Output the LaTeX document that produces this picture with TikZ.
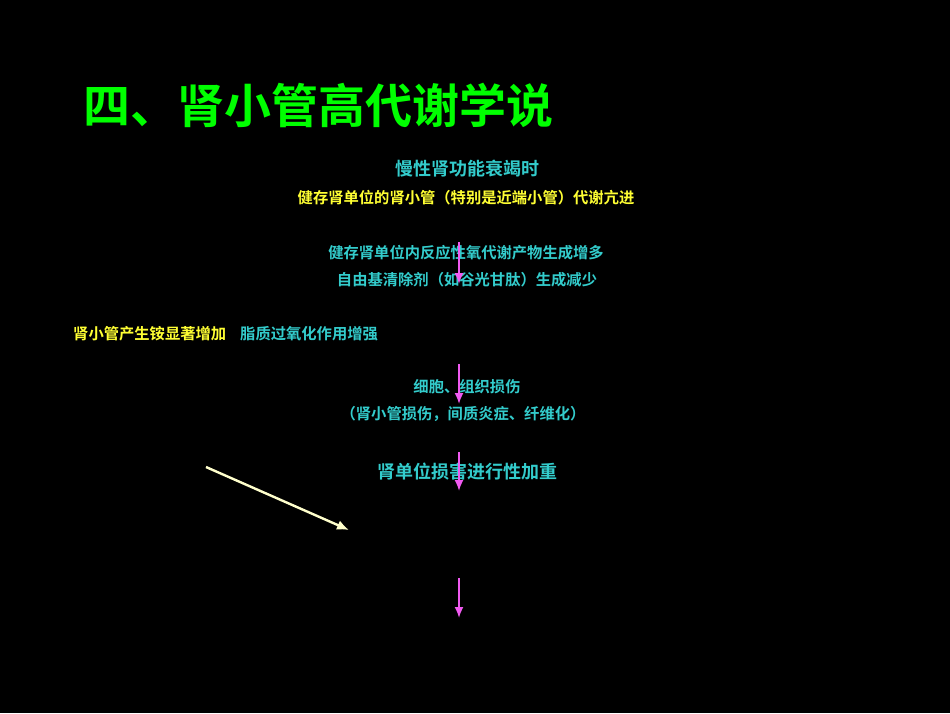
\documentclass[tikz,border=0pt]{standalone}
\usepackage{fontspec}
\usepackage{tikz}
\usetikzlibrary{arrows.meta}
\setmainfont{Noto Sans CJK SC}[BoldFont={Noto Sans CJK SC Bold}]
\definecolor{titlegreen}{RGB}{0,255,0}
\definecolor{tcyan}{RGB}{51,204,204}
\definecolor{tyellow}{RGB}{255,255,51}
\definecolor{amag}{RGB}{240,90,240}
\definecolor{acream}{RGB}{255,255,204}

\begin{document}
\begin{tikzpicture}[x=1pt, y=-1pt,
  cy/.style={text=tcyan, font=\bfseries\fontsize{15.3}{16}\selectfont, inner sep=0pt},
  ye/.style={text=tyellow, font=\bfseries\fontsize{15.3}{16}\selectfont, inner sep=0pt},
  big/.style={text=tcyan, font=\bfseries\fontsize{18}{20}\selectfont, inner sep=0pt},
  magarrow/.style={draw=amag, fill=amag, line width=1.8pt, -{Latex[length=11pt,width=9pt]}}]
\fill[black] (0, 0) rectangle (950, 713);
\node (title) [anchor=west, text=titlegreen, inner sep=0pt,
  font=\bfseries\fontsize{47}{50}\selectfont] at (83, 105) {四、肾小管高代谢学说};
\node (crf) [big] at (467, 169) {慢性肾功能衰竭时};
\node (hyper) [ye] at (466, 198) {健存肾单位的肾小管（特别是近端小管）代谢亢进};
\node (ros) [cy] at (466, 253) {健存肾单位内反应性氧代谢产物生成增多};
\node (scav) [cy] at (467, 280) {自由基清除剂（如谷光甘肽）生成减少};
\node (ammon) [ye, anchor=west] at (73, 334) {肾小管产生铵显著增加};
\node (lipid) [cy, anchor=west] at (240, 334) {脂质过氧化作用增强};
\node (injury) [cy] at (467, 387) {细胞、组织损伤};
\node (detail) [cy] at (463, 414) {（肾小管损伤，间质炎症、纤维化）};
\node (worse) [big] at (467, 472) {肾单位损害进行性加重};
\coordinate (a1) at (459, 242); \coordinate (b1) at (459, 284);
\coordinate (a2) at (459, 364); \coordinate (b2) at (459, 404);
\coordinate (a3) at (459, 452); \coordinate (b3) at (459, 491);
\coordinate (a4) at (459, 578); \coordinate (b4) at (459, 618);
\coordinate (p) at (206, 467); \coordinate (q) at (349, 530);
\draw[magarrow] (a1) -- (b1);
\draw[magarrow] (a2) -- (b2);
\draw[magarrow] (a3) -- (b3);
\draw[magarrow] (a4) -- (b4);
\draw[draw=acream, fill=acream, line width=2.4pt, -{Latex[length=12pt,width=10pt]}] (p) -- (q);
\end{tikzpicture}
\end{document}
